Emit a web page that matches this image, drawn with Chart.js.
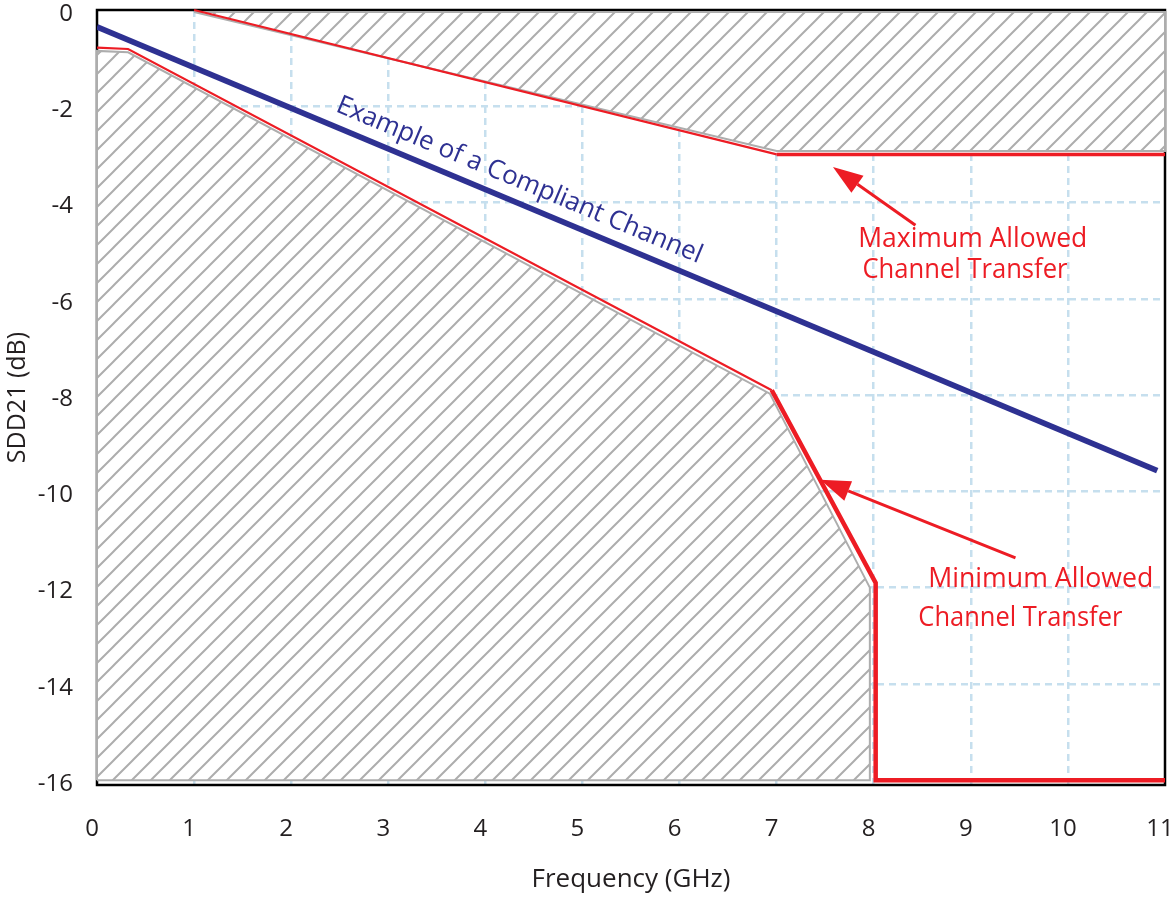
<!DOCTYPE html>
<html>
<head>
<meta charset="utf-8">
<title>SDD21 channel transfer limits</title>
<script src="https://cdn.jsdelivr.net/npm/chart.js@4.4.1/dist/chart.umd.min.js"></script>
<style>
  html, body { margin: 0; padding: 0; background: #fff; }
  #wrap { width: 1175px; height: 899px; }
</style>
</head>
<body>
<div id="wrap"><canvas id="sdd21-chart"></canvas></div>
<script>
// Axis ticks
const freqTicks = [0, 1, 2, 3, 4, 5, 6, 7, 8, 9, 10, 11];
const dbTicks = [0, -2, -4, -6, -8, -10, -12, -14, -16];

// Example compliant channel (GHz / dB)
const compliantFreq = [0, 10.92];
const compliantDb = [-0.35, -9.57];

// Red limit lines
const minLimitFreq = [0, 0.32, 6.95, 8.02, 8.02, 11];
const minLimitDb = [-0.78, -0.81, -7.9, -11.9, -16, -16];
const maxLimitFreq = [1, 7, 11];
const maxLimitDb = [0, -3.0, -3.0];

// Hatched keep-out zones
const lowerZoneFreq = [0, 0, 0.32, 6.93, 7.96, 7.96, 0];
const lowerZoneDb = [-16, -0.85, -0.88, -7.97, -12.0, -16, -16];
const upperZoneFreq = [1, 7, 11, 11, 1];
const upperZoneDb = [-0.04, -2.93, -2.93, -0.04, -0.04];

const RED = '#ed1c24';
const BLUE = '#2e3192';
const INK = '#231f20';
const FONT = '"Open Sans", "Noto Sans", sans-serif';

const pts = (xs, ys) => xs.map((x, i) => ({ x: x, y: ys[i] }));

// white tile with grey "/" stripes
function hatchPattern() {
    const s = 19;
    const tile = document.createElement('canvas');
    tile.width = tile.height = s;
    const g = tile.getContext('2d');
    g.fillStyle = '#ffffff';
    g.fillRect(0, 0, s, s);
    g.strokeStyle = '#adadad';
    g.lineWidth = 2;
    g.beginPath();
    for (const k of [-s, 0, s]) {
        g.moveTo(k - 1, s + 1);
        g.lineTo(k + s + 1, -1);
    }
    g.stroke();
    return g.createPattern(tile, 'repeat');
}
const hatch = hatchPattern();

// black box round the plot area, under the datasets
const frame = {
    id: 'frame',
    beforeDatasetsDraw(chart) {
        const { ctx, chartArea: a } = chart;
        ctx.save();
        ctx.strokeStyle = '#000';
        ctx.lineWidth = 2.5;
        ctx.strokeRect(a.left, a.top, a.right - a.left, a.bottom - a.top);
        ctx.restore();
    }
};

function arrow(ctx, x0, y0, x1, y1) {
    const a = Math.atan2(y1 - y0, x1 - x0);
    const head = 30, half = 10.5;
    const bx = x1 - head * Math.cos(a), by = y1 - head * Math.sin(a);
    ctx.beginPath();
    ctx.moveTo(x0, y0);
    ctx.lineTo(bx, by);
    ctx.stroke();
    ctx.beginPath();
    ctx.moveTo(x1, y1);
    ctx.lineTo(bx + half * Math.sin(a), by - half * Math.cos(a));
    ctx.lineTo(bx - half * Math.sin(a), by + half * Math.cos(a));
    ctx.closePath();
    ctx.fill();
}

// text labels and arrows
const callouts = {
    id: 'callouts',
    afterDatasetsDraw(chart) {
        const { ctx, scales: { x, y } } = chart;
        const px = (f, d) => [x.getPixelForValue(f), y.getPixelForValue(d)];
        ctx.save();

        // label along the compliant channel
        const [ax, ay] = px(compliantFreq[0], compliantDb[0]);
        const [bx, by] = px(compliantFreq[1], compliantDb[1]);
        const [tx, ty] = px(4.32, -3.68);
        ctx.save();
        ctx.translate(tx, ty);
        ctx.rotate(Math.atan2(by - ay, bx - ax));
        ctx.fillStyle = BLUE;
        ctx.font = '26px ' + FONT;
        ctx.textAlign = 'center';
        ctx.textBaseline = 'alphabetic';
        ctx.fillText('Example of a Compliant Channel', 0, 0, 400);
        ctx.restore();

        ctx.fillStyle = RED;
        ctx.strokeStyle = RED;
        ctx.lineWidth = 3;
        ctx.font = '27px ' + FONT;
        ctx.textAlign = 'center';

        let p = px(9.02, -4.92);
        ctx.fillText('Maximum Allowed', p[0], p[1], 229);
        p = px(8.94, -5.57);
        ctx.fillText('Channel Transfer', p[0], p[1], 205);
        p = px(9.72, -11.99);
        ctx.fillText('Minimum Allowed', p[0], p[1], 225);
        p = px(9.51, -12.8);
        ctx.fillText('Channel Transfer', p[0], p[1], 204);

        let t0 = px(8.43, -4.47), t1 = px(7.58, -3.26);
        arrow(ctx, t0[0], t0[1], t1[0], t1[1]);
        t0 = px(9.46, -11.38); t1 = px(7.45, -9.76);
        arrow(ctx, t0[0], t0[1], t1[0], t1[1]);

        ctx.restore();
    }
};

const gridColor = edges => c => (c.tick && edges.includes(c.tick.value)) ? 'rgba(0,0,0,0)' : '#c6dfee';

// fixed axis sizes; tick labels may hang over the edges
const fixBox = (w, h) => s => {
    if (w) s.width = w;
    if (h) s.height = h;
    s.paddingLeft = s.paddingRight = s.paddingTop = s.paddingBottom = 0;
};

new Chart(document.getElementById('sdd21-chart'), {
    type: 'line',
    data: {
        datasets: [
            {
                label: 'Example of a Compliant Channel',
                data: pts(compliantFreq, compliantDb),
                borderColor: BLUE,
                borderWidth: 5.8,
                borderCapStyle: 'butt'
            },
            {
                label: 'Minimum Allowed Channel Transfer',
                data: pts(minLimitFreq, minLimitDb),
                borderColor: RED,
                borderWidth: 2.2,
                segment: { borderWidth: c => c.p0.parsed.x >= 6.9 ? 4.5 : 2.2 },
                clip: false
            },
            {
                label: 'Maximum Allowed Channel Transfer',
                data: pts(maxLimitFreq, maxLimitDb),
                borderColor: RED,
                borderWidth: 2.2,
                segment: { borderWidth: c => c.p0.parsed.x >= 6.9 ? 3.5 : 2.2 },
                clip: false
            },
            {
                label: 'lower zone',
                data: pts(lowerZoneFreq, lowerZoneDb),
                borderColor: '#adadad',
                borderWidth: 2,
                backgroundColor: hatch,
                fill: 'shape',
                clip: false
            },
            {
                label: 'upper zone',
                data: pts(upperZoneFreq, upperZoneDb),
                borderColor: '#adadad',
                borderWidth: 2,
                backgroundColor: hatch,
                fill: 'shape',
                clip: false
            }
        ]
    },
    options: {
        responsive: true,
        maintainAspectRatio: false,
        animation: false,
        layout: { padding: { top: 10, right: 10, left: 0, bottom: 0 } },
        elements: {
            point: { radius: 0, hoverRadius: 0 },
            line: { tension: 0 }
        },
        plugins: {
            legend: { display: false },
            tooltip: { enabled: false }
        },
        scales: {
            x: {
                type: 'linear',
                min: 0,
                max: 11,
                afterBuildTicks: s => { s.ticks = freqTicks.map(v => ({ value: v })); },
                afterFit: fixBox(0, 114),
                grid: { color: gridColor([0, 11]), lineWidth: 2.5, drawTicks: false },
                border: { display: false, dash: [7, 5] },
                ticks: {
                    color: INK,
                    font: { family: FONT, size: 24 },
                    padding: 30,
                    labelOffset: -5,
                    maxRotation: 0
                },
                title: {
                    display: true,
                    text: 'Frequency (GHz)',
                    color: INK,
                    font: { family: FONT, size: 26 },
                    padding: { top: 0, bottom: 4 }
                }
            },
            y: {
                type: 'linear',
                min: -16.1,
                max: 0,
                afterBuildTicks: s => { s.ticks = dbTicks.map(v => ({ value: v })); },
                afterFit: fixBox(97, 0),
                grid: { color: gridColor([0, -16]), lineWidth: 2.5, drawTicks: false },
                border: { display: false, dash: [7, 5] },
                ticks: {
                    color: INK,
                    font: { family: FONT, size: 24 },
                    padding: 24,
                    labelOffset: 4
                },
                title: {
                    display: true,
                    text: 'SDD21 (dB)',
                    color: INK,
                    font: { family: FONT, size: 25 },
                    padding: { top: 3, bottom: 0 }
                }
            }
        }
    },
    plugins: [frame, callouts]
});
</script>
</body>
</html>
